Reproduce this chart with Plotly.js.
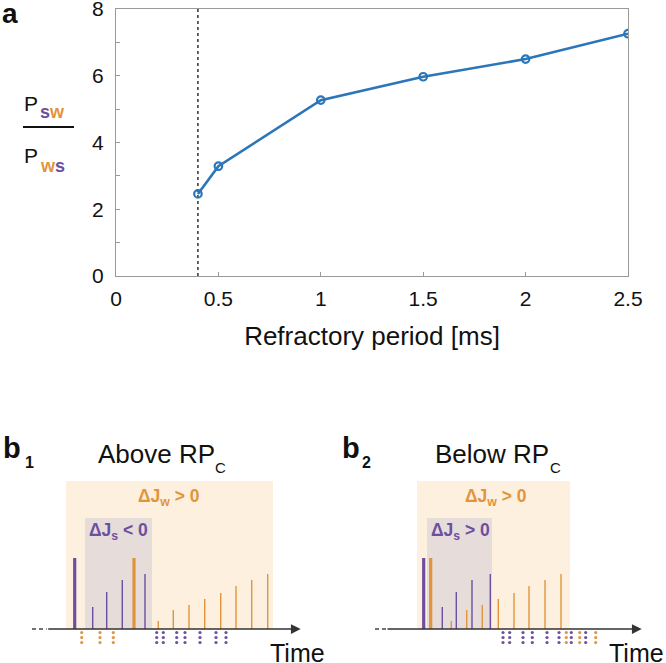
<!DOCTYPE html>
<html>
<head>
<meta charset="utf-8">
<script src="https://cdn.plot.ly/plotly-3.0.1.min.js"></script>
<style>html,body{margin:0;padding:0;background:#fff;}#chart{width:666px;height:663px;}</style>
</head>
<body>
<div id="chart"></div>
<script>
// ---------- Panel a data ----------
const refractoryPeriod = [0.4, 0.5, 1, 1.5, 2, 2.5];          // ms
const probabilityRatio = [2.46, 3.29, 5.27, 5.97, 6.50, 7.26]; // P_sw / P_ws
const criticalRP = 0.4;
const xTickVals = [0, 0.5, 1, 1.5, 2, 2.5];
const xTickText = ['0', '0.5', '1', '1.5', '2', '2.5'];
const yTickVals = [0, 2, 4, 6, 8];
const yTickText = ['0', '2', '4', '6', '8'];

// ---------- Panel b1 data (schematic time units) ----------
const b1PurpleTimes   = [44.7, 62.7, 76.7, 92.3, 115];
const b1PurpleHeights = [71, 22, 37, 49, 55];
const b1OrangeTimes   = [104, 128.3, 143.3, 159, 174.7, 190.7, 206, 221.7, 237.7];
const b1OrangeHeights = [71, 8, 19, 24, 30, 36, 43, 49, 55];
const b1OrangeDots    = [51.7, 70, 83.3];
const b1PurpleDots    = [126.7, 133.3, 146.7, 155, 170, 186, 196];
const b1WindowW = [36, 243, 148];
const b1WindowS = [55, 122, 111];
const b1Axis = [2, 16.7, 270.7];

// ---------- Panel b2 data ----------
const b2PurpleTimes   = [57.7, 76.3, 90.3, 106, 124.3];
const b2PurpleHeights = [71, 22, 37, 49, 55];
const b2OrangeTimes   = [64.7, 85.3, 100.7, 116.3, 132.3, 148, 163, 179, 195];
const b2OrangeHeights = [71, 8, 19, 24, 30, 36, 43, 49, 55];
const b2PurpleDots    = [137, 143.7, 157, 166.3, 181, 193, 205.3, 219.7];
const b2OrangeDots    = [200.3, 213.7, 229.7];
const b2WindowW = [51, 204, 148];
const b2WindowS = [61, 126, 111];
const b2Axis = [9, 20, 275.7];

// ---------- styles ----------
const W = 666, H = 663;
const FONT = 'Liberation Sans, Arial, Helvetica, sans-serif';
const PURPLE = '#6c4f9e';
const ORANGE = '#e2943c';
const BLUE = '#2a76b8';
const AXC = '#9a9a9a';
const px = v => v / W;
const py = v => 1 - v / H;

function spikeTrace(times, heights, color, width, xa, ya) {
  const x = [], y = [];
  times.forEach((t, i) => { x.push(t, t, null); y.push(0, heights[i], null); });
  return {type: 'scatter', mode: 'lines', x, y, xaxis: xa, yaxis: ya,
    line: {color, width}, hoverinfo: 'skip', showlegend: false};
}
function dotTrace(times, color, xa, ya) {
  const rows = [-3.5, -8.5, -13.5];
  const x = [], y = [];
  times.forEach(t => rows.forEach(r => { x.push(t); y.push(r); }));
  return {type: 'scatter', mode: 'markers', x, y, xaxis: xa, yaxis: ya,
    marker: {color, size: 3.2}, hoverinfo: 'skip', showlegend: false};
}
function spikeSet(pt, ph, ot, oh, xa, ya) {
  return [
    spikeTrace(pt.slice(0, 1), ph.slice(0, 1), PURPLE, 3.2, xa, ya),
    spikeTrace(pt.slice(1), ph.slice(1), PURPLE, 1.4, xa, ya),
    spikeTrace(ot.slice(0, 1), oh.slice(0, 1), ORANGE, 3.2, xa, ya),
    spikeTrace(ot.slice(1), oh.slice(1), ORANGE, 1.4, xa, ya)
  ];
}

const traces = [
  {type: 'scatter', mode: 'lines+markers', x: refractoryPeriod, y: probabilityRatio,
   line: {color: BLUE, width: 2.6},
   marker: {symbol: 'circle-open', size: 7.5, color: BLUE, line: {width: 2.2, color: BLUE}},
   hoverinfo: 'x+y', showlegend: false},
  ...spikeSet(b1PurpleTimes, b1PurpleHeights, b1OrangeTimes, b1OrangeHeights, 'x2', 'y2'),
  dotTrace(b1OrangeDots, ORANGE, 'x2', 'y2'),
  dotTrace(b1PurpleDots, PURPLE, 'x2', 'y2'),
  ...spikeSet(b2PurpleTimes, b2PurpleHeights, b2OrangeTimes, b2OrangeHeights, 'x3', 'y3'),
  dotTrace(b2PurpleDots, PURPLE, 'x3', 'y3'),
  dotTrace(b2OrangeDots, ORANGE, 'x3', 'y3')
];

function windowShapes(win, xa, ya, fill) {
  return {type: 'rect', xref: xa, yref: ya, x0: win[0], x1: win[1], y0: 0, y1: win[2],
    fillcolor: fill, line: {width: 0}, layer: 'below'};
}
function axisDash(ax, xa, ya) {
  return {type: 'line', xref: xa, yref: ya, x0: ax[0], x1: ax[1], y0: 0, y1: 0,
    line: {color: '#444', width: 1.5, dash: '4px,3px'}};
}
function axisArrow(ax, xa, ya) {
  return {x: ax[2], y: 0, xref: xa, yref: ya, ax: ax[1], ay: 0, axref: xa, ayref: ya,
    text: '', showarrow: true, arrowhead: 2, arrowsize: 1.3, arrowwidth: 1.5,
    arrowcolor: '#333', standoff: 0, startstandoff: 0};
}
function label(text, x, y, size, opts) {
  return Object.assign({text, x: px(x), y: py(y), xref: 'paper', yref: 'paper',
    showarrow: false, xanchor: 'left', yanchor: 'middle',
    font: {family: FONT, size, color: '#111'}}, opts || {});
}

const layout = {
  width: W, height: H,
  margin: {l: 0, r: 0, t: 0, b: 0},
  paper_bgcolor: '#fff', plot_bgcolor: 'rgba(0,0,0,0)',
  font: {family: FONT, color: '#111'},
  showlegend: false,
  xaxis: {
    domain: [px(116), px(628)], range: [0, 2.5],
    tickvals: xTickVals, ticktext: xTickText,
    ticks: 'inside', ticklen: 4, tickcolor: AXC, tickwidth: 1,
    showline: true, linecolor: AXC, linewidth: 1.2, mirror: true,
    showgrid: false, zeroline: false,
    tickfont: {family: FONT, size: 21, color: '#111'},
    ticklabelstandoff: 4, ticklabeloverflow: 'allow',
    title: {text: 'Refractory period [ms]', font: {family: FONT, size: 26, color: '#111'}, standoff: 17},
    anchor: 'y'
  },
  yaxis: {
    domain: [py(276), py(9)], range: [0, 8],
    tickvals: yTickVals, ticktext: yTickText,
    ticks: 'inside', ticklen: 4, tickcolor: AXC, tickwidth: 1,
    minor: {dtick: 1, ticks: 'inside', ticklen: 4, tickcolor: AXC, tickwidth: 1},
    showline: true, linecolor: AXC, linewidth: 1.2, mirror: true,
    showgrid: false, zeroline: false,
    tickfont: {family: FONT, size: 21, color: '#111'},
    ticklabelstandoff: 7, ticklabeloverflow: 'allow',
    anchor: 'x'
  },
  xaxis2: {domain: [px(30), px(330)], range: [0, 300], visible: false, anchor: 'y2', fixedrange: true},
  yaxis2: {domain: [py(660), py(470)], range: [-31, 159], visible: false, anchor: 'x2', fixedrange: true},
  xaxis3: {domain: [px(366), 1], range: [0, 300], visible: false, anchor: 'y3', fixedrange: true},
  yaxis3: {domain: [py(660), py(470)], range: [-31, 159], visible: false, anchor: 'x3', fixedrange: true},
  shapes: [
    {type: 'line', xref: 'x', yref: 'y', x0: criticalRP, x1: criticalRP, y0: 0, y1: 8,
     line: {color: '#111', width: 1.3, dash: 'dot'}, layer: 'below'},
    {type: 'line', xref: 'paper', yref: 'paper', x0: px(23), x1: px(74), y0: py(127), y1: py(127),
     line: {color: '#111', width: 2.2}},
    windowShapes(b1WindowW, 'x2', 'y2', '#fdf0de'),
    windowShapes(b1WindowS, 'x2', 'y2', '#e6dcda'),
    windowShapes(b2WindowW, 'x3', 'y3', '#fdf0de'),
    windowShapes(b2WindowS, 'x3', 'y3', '#e6dcda'),
    axisDash(b1Axis, 'x2', 'y2'),
    axisDash(b2Axis, 'x3', 'y3')
  ],
  annotations: [
    axisArrow(b1Axis, 'x2', 'y2'),
    axisArrow(b2Axis, 'x3', 'y3'),
    label('<b>a</b>', 0, 13, 28),
    label('P', 22, 103.5, 21),
    label('<b><span style="color:' + PURPLE + '">s</span><span style="color:' + ORANGE + '">w</span></b>', 38, 112, 18),
    label('P', 22, 155, 21),
    label('<b><span style="color:' + ORANGE + '">w</span><span style="color:' + PURPLE + '">s</span></b>', 38, 166, 18),
    label('<b>b</b>', 1, 448, 29),
    label('<b>1</b>', 23, 462, 16),
    label('<b>b</b>', 340, 448, 29),
    label('<b>2</b>', 360, 462, 16),
    label('Above RP', 96, 453.5, 26),
    label('C', 213, 467, 15),
    label('Below RP', 433, 453.5, 26),
    label('C', 548, 467, 15),
    label('<b>ΔJ<sub>w</sub> &gt; 0</b>', 169, 497, 17.5, {xanchor: 'center', font: {family: FONT, size: 17.5, color: ORANGE}}),
    label('<b>ΔJ<sub>s</sub> &lt; 0</b>', 118, 531, 17.5, {xanchor: 'center', font: {family: FONT, size: 17.5, color: PURPLE}}),
    label('<b>ΔJ<sub>w</sub> &gt; 0</b>', 496, 497, 17.5, {xanchor: 'center', font: {family: FONT, size: 17.5, color: ORANGE}}),
    label('<b>ΔJ<sub>s</sub> &gt; 0</b>', 460, 531, 17.5, {xanchor: 'center', font: {family: FONT, size: 17.5, color: PURPLE}}),
    label('Time', 268, 653, 25),
    label('Time', 607, 653, 25)
  ]
};

Plotly.newPlot('chart', traces, layout, {staticPlot: true, displayModeBar: false});
</script>
</body>
</html>
